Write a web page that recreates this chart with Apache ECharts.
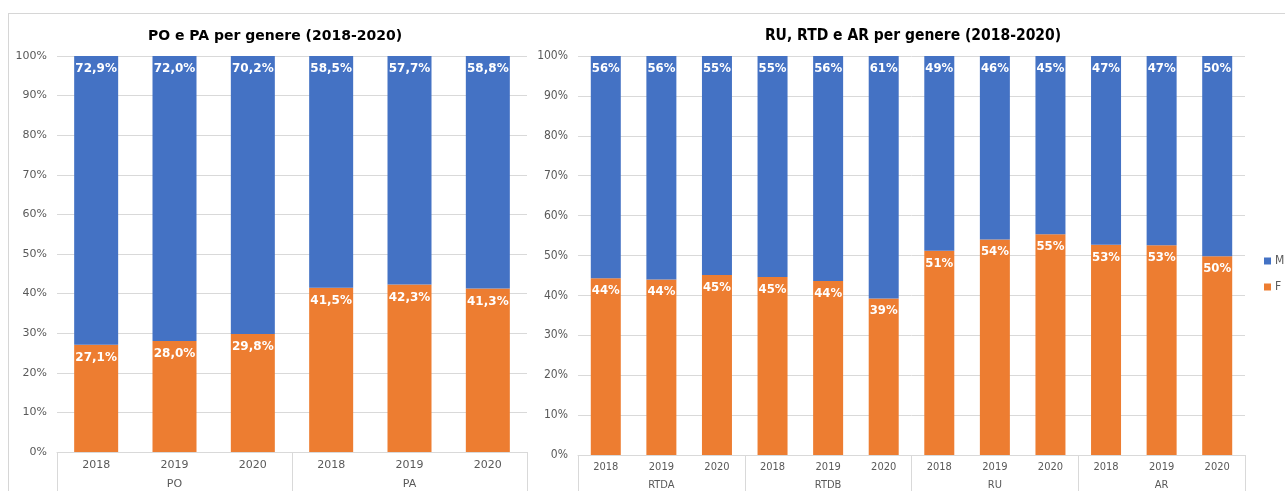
<!DOCTYPE html>
<html>
<head>
<meta charset="utf-8">
<script src="https://cdn.jsdelivr.net/npm/echarts@6/dist/echarts.min.js"></script>
<style>
    html, body { margin: 0; padding: 0; background: #fff; }
    #wrap { position: relative; width: 1285px; height: 491px; }
    #frame { position: absolute; left: 8px; top: 13px; right: -5px; bottom: -5px;
             border-top: 1px solid #d6d6d6; border-left: 1px solid #d6d6d6; }
    #chart { position: absolute; left: 0; top: 0; width: 1285px; height: 491px; }
</style>
</head>
<body>
<div id="wrap">
    <div id="frame"></div>
    <div id="chart"></div>
</div>
<script>
    // dati PO / PA
    const leftYears = ['2018', '2019', '2020', '2018', '2019', '2020'];
    const leftGroups = ['PO', 'PA'];
    const leftF = [27.1, 28.0, 29.8, 41.5, 42.3, 41.3];
    const leftM = [72.9, 72.0, 70.2, 58.5, 57.7, 58.8];

    // dati RTDA / RTDB / RU / AR
    const rightYears = ['2018', '2019', '2020', '2018', '2019', '2020',
                        '2018', '2019', '2020', '2018', '2019', '2020'];
    const rightGroups = ['RTDA', 'RTDB', 'RU', 'AR'];
    const rightF = [44.3, 44.0, 45.1, 44.6, 43.6, 39.2, 51.2, 54.0, 55.3, 52.7, 52.6, 49.8];
    const rightM = [55.7, 56.0, 54.9, 55.4, 56.4, 60.8, 48.8, 46.0, 44.7, 47.3, 47.4, 50.2];

    const blue = '#4472C4';
    const orange = '#ED7D31';
    const grey = '#595959';
    const lineGrey = '#d9d9d9';
    const verdana = 'DejaVu Sans, Verdana, sans-serif';
    const narrow = '"DejaVu Sans Condensed", "Liberation Sans Narrow", Roboto, sans-serif';

    const chart = echarts.init(document.getElementById('chart'));

    function yAxisFor(gridIndex, font, size) {
        return {
            type: 'value',
            gridIndex: gridIndex,
            min: 0,
            max: 100,
            interval: 10,
            axisLine: { show: false },
            axisTick: { show: false },
            axisLabel: { formatter: '{value}%', color: grey, fontSize: size, fontFamily: font, margin: 10 },
            splitLine: { lineStyle: { color: lineGrey, width: 1 } }
        };
    }

    function yearAxis(gridIndex, data, font, margin) {
        return {
            type: 'category',
            gridIndex: gridIndex,
            data: data,
            position: 'bottom',
            axisLine: { show: true, lineStyle: { color: lineGrey } },
            axisTick: { show: false },
            axisLabel: { color: grey, fontSize: 11, fontFamily: font, margin: margin, interval: 0 }
        };
    }

    function groupAxis(gridIndex, data, font, margin) {
        return {
            type: 'category',
            gridIndex: gridIndex,
            data: data,
            position: 'bottom',
            axisLine: { show: false },
            axisTick: { show: true, length: 45, interval: 0, lineStyle: { color: lineGrey } },
            axisLabel: { color: grey, fontSize: 11, fontFamily: font, margin: margin, interval: 0 },
            splitLine: { show: false }
        };
    }

    const leftLabel = {
        show: true,
        position: 'insideTop',
        distance: 7,
        color: '#fff',
        fontWeight: 'bold',
        fontSize: 12,
        fontFamily: verdana,
        formatter: p => p.value.toFixed(1).replace('.', ',') + '%'
    };

    const rightLabel = {
        show: true,
        position: 'insideTop',
        distance: 6,
        color: '#fff',
        fontWeight: 'bold',
        fontSize: 13,
        fontFamily: narrow,
        formatter: p => Math.round(p.value) + '%'
    };

    const option = {
        animation: false,
        title: [
            {
                text: 'PO e PA per genere (2018-2020)',
                left: 270,
                top: 24,
                textAlign: 'center',
                textStyle: { fontFamily: verdana, fontWeight: 'bold', fontSize: 14, color: '#000' }
            },
            {
                text: 'RU, RTD e AR per genere (2018-2020)',
                left: 908,
                top: 23,
                textAlign: 'center',
                textStyle: { fontFamily: narrow, fontWeight: 'bold', fontSize: 15.5, color: '#000' }
            }
        ],
        legend: {
            data: ['M', 'F'],
            orient: 'vertical',
            left: 1259,
            top: 250,
            itemWidth: 7,
            itemHeight: 7,
            itemGap: 14,
            icon: 'rect',
            textStyle: { color: grey, fontSize: 12, fontFamily: narrow, padding: [0, 0, 0, -1] }
        },
        grid: [
            { left: 57, right: 758, top: 56, bottom: 39 },
            { left: 578, right: 40, top: 56, bottom: 35 }
        ],
        xAxis: [
            yearAxis(0, leftYears, verdana, 8),
            groupAxis(0, leftGroups, verdana, 27),
            yearAxis(1, rightYears, narrow, 7),
            groupAxis(1, rightGroups, narrow, 25)
        ],
        yAxis: [
            yAxisFor(0, verdana, 11),
            yAxisFor(1, narrow, 12)
        ],
        series: [
            {
                name: 'F', type: 'bar', stack: 'left', xAxisIndex: 0, yAxisIndex: 0,
                data: leftF, barWidth: 44, itemStyle: { color: orange }, label: leftLabel
            },
            {
                name: 'M', type: 'bar', stack: 'left', xAxisIndex: 0, yAxisIndex: 0,
                data: leftM, barWidth: 44, itemStyle: { color: blue }, label: leftLabel
            },
            {
                name: 'F', type: 'bar', stack: 'right', xAxisIndex: 2, yAxisIndex: 1,
                data: rightF, barWidth: 30, itemStyle: { color: orange }, label: rightLabel
            },
            {
                name: 'M', type: 'bar', stack: 'right', xAxisIndex: 2, yAxisIndex: 1,
                data: rightM, barWidth: 30, itemStyle: { color: blue }, label: rightLabel
            }
        ]
    };

    chart.setOption(option);
</script>
</body>
</html>
